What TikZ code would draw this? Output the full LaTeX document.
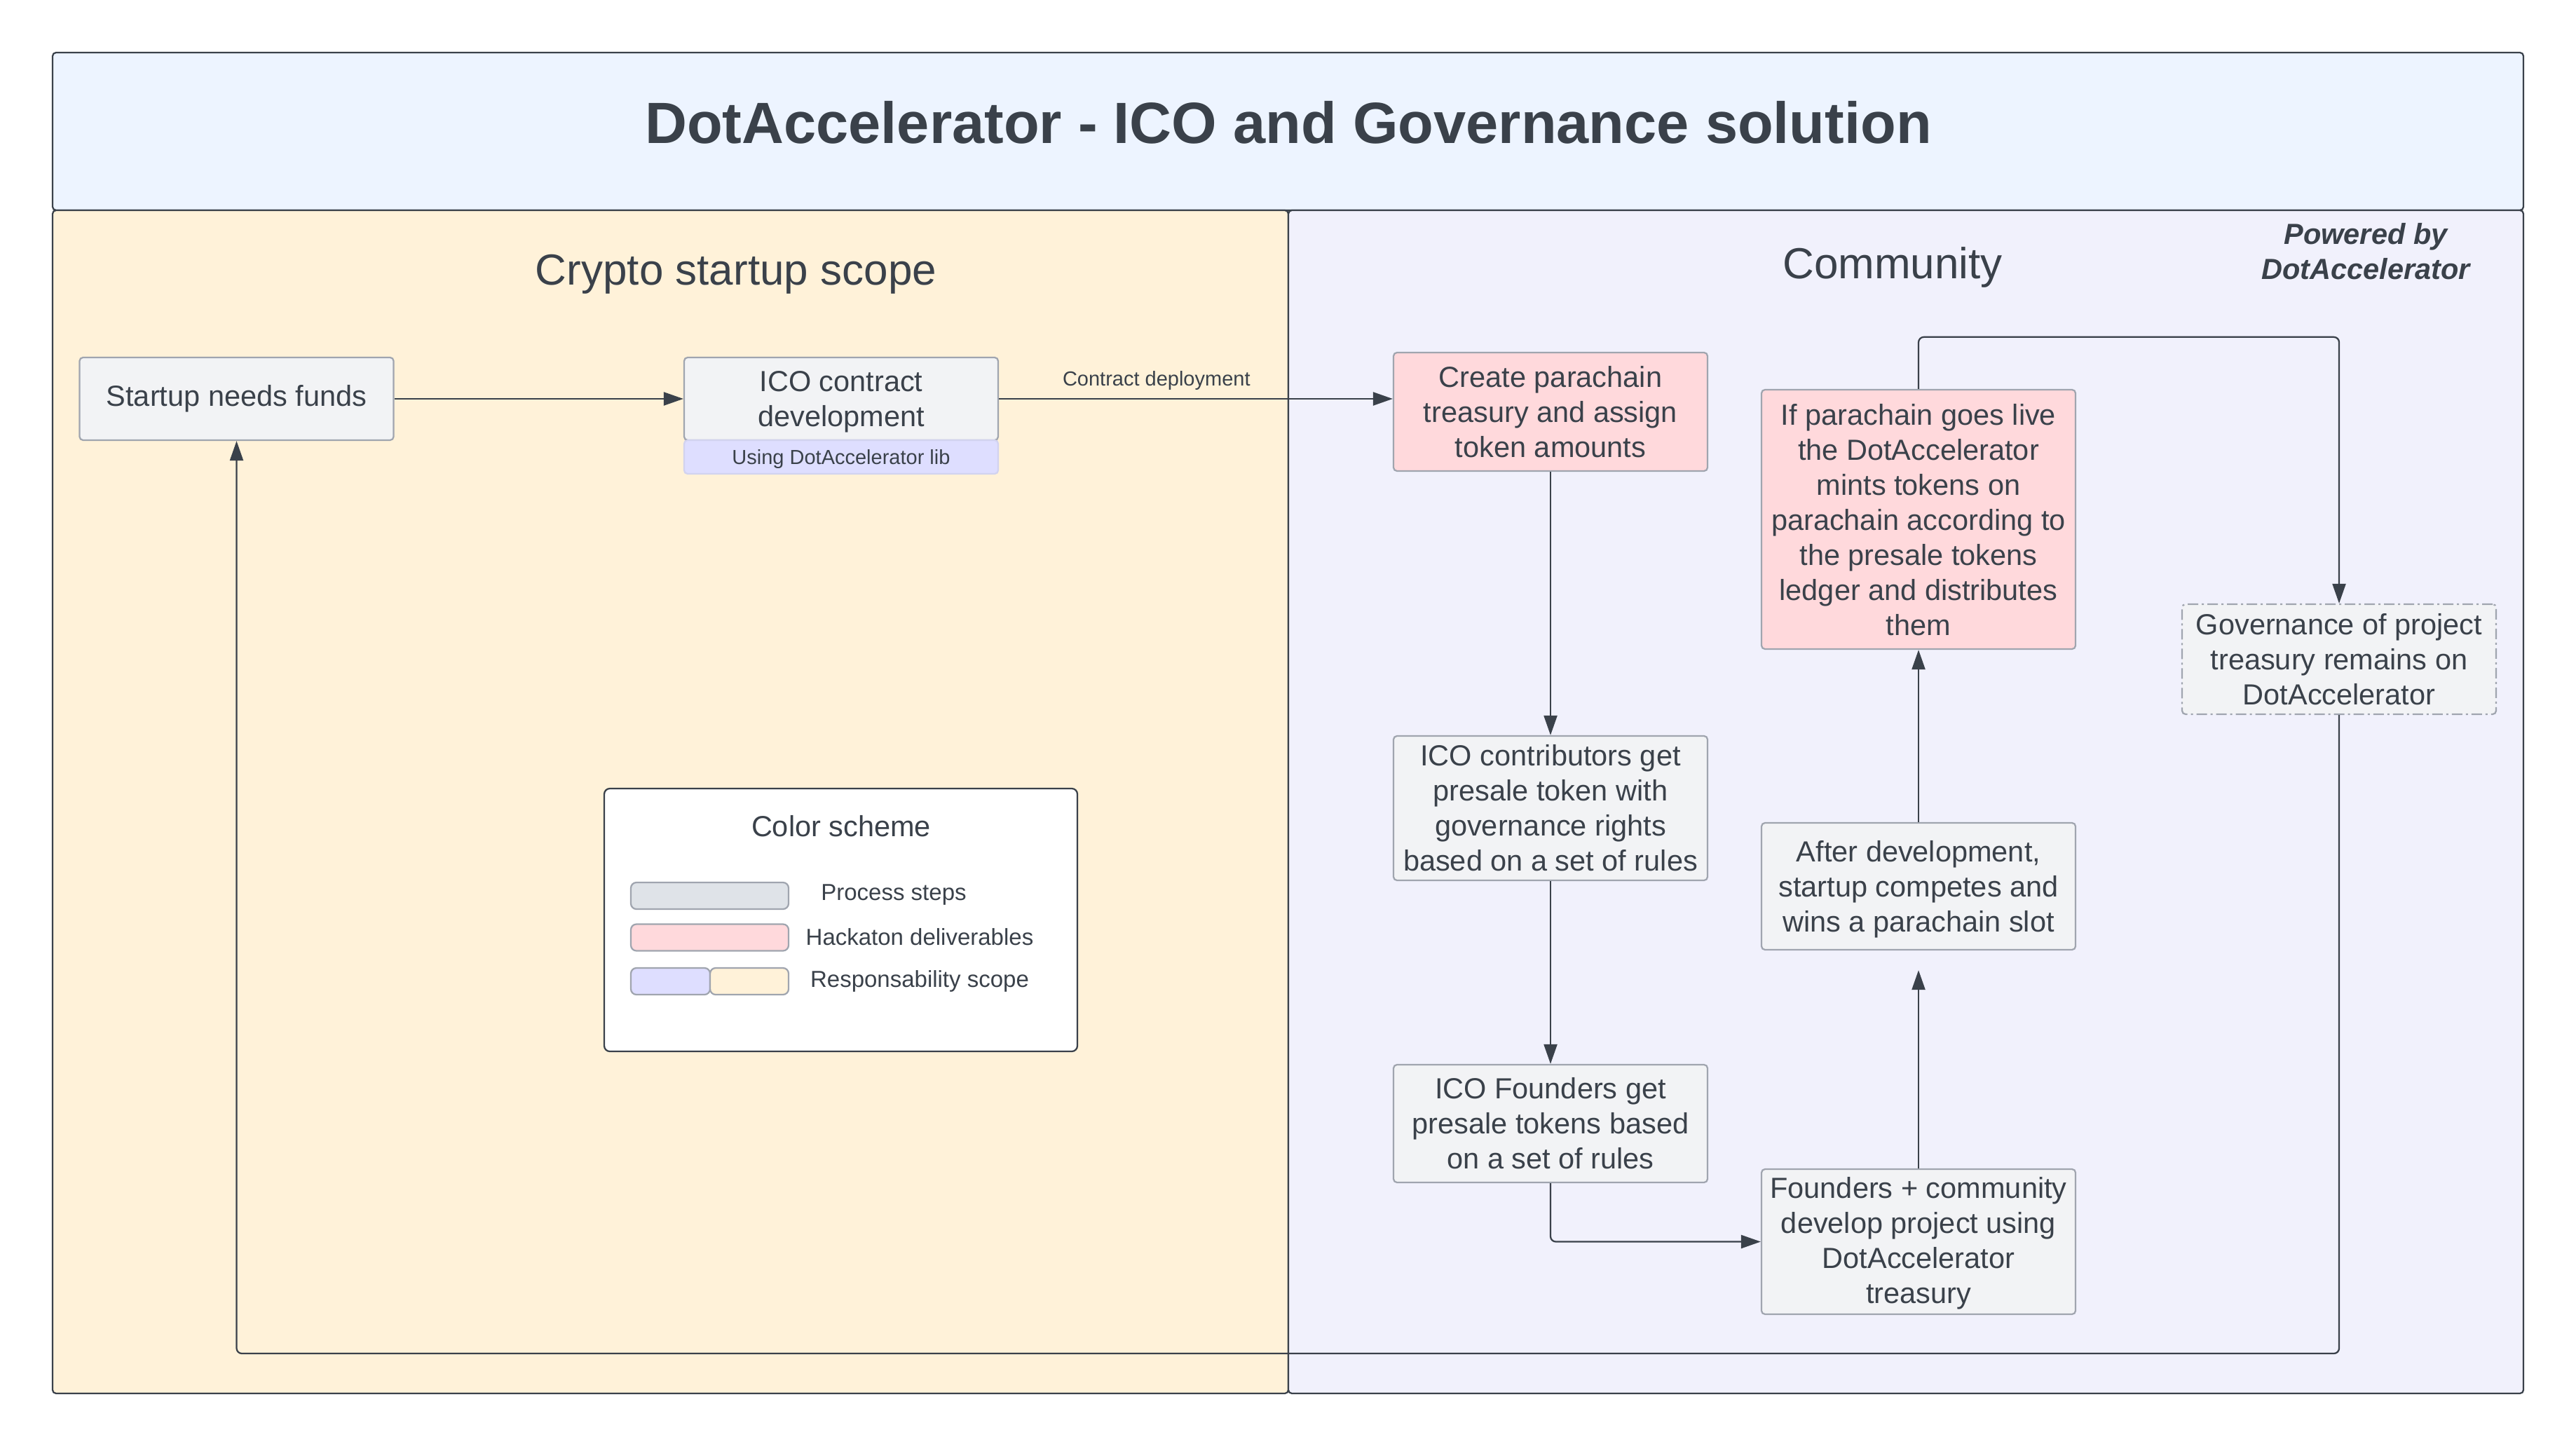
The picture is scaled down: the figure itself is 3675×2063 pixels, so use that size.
\documentclass[tikz,border=0pt]{standalone}
\usepackage{fontspec}
\setmainfont{Liberation Sans}
\usetikzlibrary{arrows.meta, positioning}

\definecolor{inkgray}{HTML}{3A414A}
\definecolor{boxline}{HTML}{A0A5AF}
\definecolor{stepfill}{HTML}{F2F3F5}
\definecolor{hackfill}{HTML}{FFD9DC}
\definecolor{libfill}{HTML}{DEDEFF}
\definecolor{titlefill}{HTML}{EDF4FF}
\definecolor{cryptofill}{HTML}{FFF2D9}
\definecolor{commfill}{HTML}{F1F1FC}
\definecolor{legendgray}{HTML}{DFE3E8}

\tikzset{
  flow/.style={draw=inkgray, line width=0.45pt, -{Triangle[length=5.6pt,width=3.8pt]}},
  lane/.style={draw=inkgray, line width=0.45pt, rounded corners=1pt},
  stepbox/.style={draw=boxline, fill=stepfill, line width=0.45pt, rounded corners=1pt,
    minimum width=89.6pt, inner sep=0pt, align=center},
  hackbox/.style={stepbox, fill=hackfill},
  swatch/.style={draw=boxline, line width=0.45pt, rounded corners=1.6pt,
    minimum height=7.6pt, inner sep=0pt}
}

\begin{document}
\begin{tikzpicture}[x=0.2pt, y=-0.2pt, text=inkgray, font=\fontsize{8.3}{10}\selectfont]
  \useasboundingbox (0,0) rectangle (3675,2063);

  % Lanes
  \draw[lane, fill=titlefill] (75,75) rectangle (3600,300);
  \draw[lane, fill=cryptofill] (75,300) rectangle (1838,1988);
  \draw[lane, fill=commfill] (1838,300) rectangle (3600,1988);

  \node[anchor=base, font=\bfseries\fontsize{16.6}{20}\selectfont] (title) at (1838,205)
    {DotAccelerator - ICO and Governance solution};
  \node[anchor=base, font=\fontsize{12.4}{15}\selectfont] (cryptolbl) at (1050,407) {Crypto startup scope};
  \node[anchor=base, font=\fontsize{12.4}{15}\selectfont] (commlbl) at (2700,398) {Community};
  \node[anchor=base, align=center, font=\bfseries\itshape\fontsize{8.3}{10}\selectfont] (powered) at (3375,399)
    {Powered by\\DotAccelerator};

  % Startup steps
  \node[stepbox, minimum height=23.6pt] (startup) at (337.5,569) {Startup needs funds};
  \node[stepbox, text depth=-0.25pt, minimum height=23.6pt] (icodev) at (1200,569) {ICO contract\\development};
  \node[stepbox, fill=libfill, draw=libfill!80!boxline, minimum height=9.6pt, text depth=-0.8pt,
    font=\fontsize{5.8}{7}\selectfont] (icolib) at (1200,652) {Using DotAccelerator lib};

  % Community steps
  \node[hackbox, text depth=-4pt, minimum height=33.8pt] (create) at (2212,587.5)
    {Create parachain\\treasury and assign\\token amounts};
  \node[stepbox, minimum height=41.2pt] (contrib) at (2212,1153)
    {ICO contributors get\\presale token with\\governance rights\\based on a set of rules};
  \node[stepbox, minimum height=33.6pt] (founders) at (2212,1603)
    {ICO Founders get\\presale tokens based\\on a set of rules};
  \node[stepbox, text depth=0.75pt, minimum height=41.4pt] (commdev) at (2737,1771.5)
    {Founders + community\\develop project using\\DotAccelerator\\treasury};
  \node[stepbox, text depth=-1.05pt, minimum height=36.2pt] (afterdev) at (2737,1264.5)
    {After development,\\startup competes and\\wins a parachain slot};
  \node[hackbox, text depth=-4pt, minimum height=74pt] (mint) at (2737,741)
    {If parachain goes live\\the DotAccelerator\\mints tokens on\\parachain according to\\the presale tokens\\ledger and distributes\\them};
  \node[stepbox, minimum height=31.4pt, dash pattern=on 3pt off 1pt on 0.6pt off 1pt] (govern) at (3337,940.5)
    {Governance of project\\treasury remains on\\DotAccelerator};

  % Connectors
  \draw[flow] (startup) -- (icodev);
  \draw[flow] (icodev.east) -- (icodev.east -| create.west)
    node[pos=0.4, anchor=base, yshift=3.6pt, font=\fontsize{5.8}{7}\selectfont] (deploylbl) {Contract deployment};
  \draw[flow] (create) -- (contrib);
  \draw[flow] (contrib) -- (founders);
  \draw[flow, rounded corners=1.5pt] (founders.south) |- (commdev.west);
  \draw[flow, shorten >=5.6pt] (commdev) -- (afterdev);
  \draw[flow] (afterdev) -- (mint);
  \draw[flow, rounded corners=1.5pt] (mint.north) -- ++(0,-74) -| (govern.north);
  \coordinate (loopcorner) at (3337,1931);
  \draw[flow, rounded corners=1.5pt] (govern.south) |- (startup.south |- loopcorner) -- (startup.south);

  % Color scheme
  \node[draw=inkgray, fill=white, line width=0.45pt, rounded corners=1.6pt, inner sep=0pt,
    minimum width=135pt, minimum height=75pt] (legend) at (1199.5,1312.5) {};
  \node[anchor=base] (legendlbl) at (1200,1193) {Color scheme};
  \node[swatch, fill=legendgray, minimum width=45pt] (swstep) at (1012.5,1278) {};
  \node[swatch, fill=hackfill, minimum width=45pt] (swhack) at (1012.5,1337.5) {};
  \node[swatch, fill=libfill, minimum width=22.6pt] (swcomm) at (956.5,1400) {};
  \node[swatch, fill=cryptofill, minimum width=22.4pt] (swcrypto) at (1069,1400) {};
  \node[font=\fontsize{6.6}{8}\selectfont] (stepslbl) at (1275,1277) {Process steps};
  \node[font=\fontsize{6.6}{8}\selectfont] (hacklbl) at (1312,1337) {Hackaton deliverables};
  \node[font=\fontsize{6.6}{8}\selectfont] (scopelbl) at (1312,1400) {Responsability scope};
\end{tikzpicture}
\end{document}
